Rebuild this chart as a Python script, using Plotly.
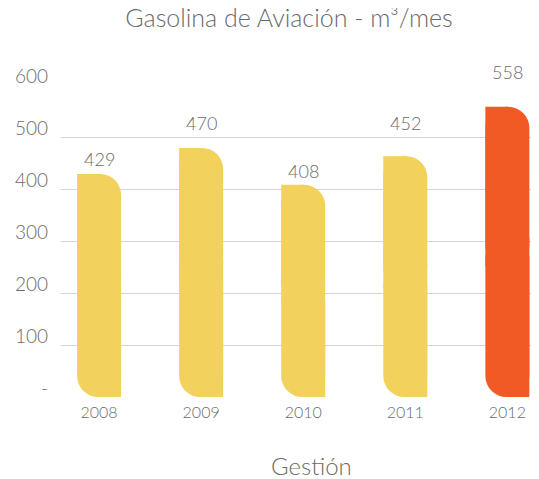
import plotly.graph_objects as go

years = ["2008", "2009", "2010", "2011", "2012"]
# bar heights as drawn in the picture (m3/mes)
bar_heights = [429, 479, 408, 463, 558]
# value labels printed above the bars
value_labels = ["429", "470", "408", "452", "558"]
colors = ["#F3D15D", "#F3D15D", "#F3D15D", "#F3D15D", "#F15A24"]
ytick_vals = [0, 100, 200, 300, 400, 500, 600]
ytick_text = ["-", "100", "200", "300", "400", "500", "600"]

# style: pixel gap between each bar top and the centre of its label
label_gap_px = [15, 25, 14, 33, 35]

FONT = "Lato"
GRAY = "#6b6b6b"
W = 0.431          # full bar width (category units)
H = W / 2          # half width
EPS = 0.006

fig = go.Figure()


def piece(base, y, width, offset, radius=None):
    kw = dict(x=years, base=base, y=y, width=width, offset=offset,
              marker_color=colors, marker_line_width=0,
              hoverinfo="skip", showlegend=False)
    if radius is not None:
        kw["marker_cornerradius"] = radius
    fig.add_trace(go.Bar(**kw))


# upper part: rounded top corners
piece([v * 0.45 for v in bar_heights], [v * 0.55 for v in bar_heights], W, -H, "50%")
# lower part: downward bar -> rounded bottom corners
piece([v * 0.55 for v in bar_heights], [-v * 0.55 for v in bar_heights], W, -H, "50%")
# square top-left corner
piece([v * 0.45 for v in bar_heights], [v * 0.55 for v in bar_heights], H + EPS, -H)
# square bottom-right corner
piece([0 for v in bar_heights], [v * 0.55 for v in bar_heights], H + EPS, -EPS)

annotations = []
for i, (v, t, g) in enumerate(zip(bar_heights, value_labels, label_gap_px)):
    annotations.append(dict(x=i, y=v, xref="x", yref="y", text=t, showarrow=False,
                            yanchor="middle", yshift=g,
                            font=dict(family=FONT, size=18, color=GRAY, weight=300)))
# y-axis labels sitting just above their gridlines
for tv, tt in zip(ytick_vals, ytick_text):
    annotations.append(dict(x=0, y=tv, xref="paper", yref="y", text=tt, showarrow=False,
                            xanchor="right", yanchor="bottom", xshift=-11, yshift=-4,
                            font=dict(family=FONT, size=19, color=GRAY, weight=300)))
annotations.append(dict(x=(311 - 61) / 478, y=-(465 - 397) / 312, xref="paper", yref="paper",
                        text="Gestión", showarrow=False, yanchor="middle", xanchor="center",
                        font=dict(family=FONT, size=24, color=GRAY, weight=300)))

fig.update_layout(
    width=531, height=471,
    barmode="overlay",
    paper_bgcolor="white", plot_bgcolor="white",
    margin=dict(l=53, r=0, t=77, b=82, pad=0),
    title=dict(text="Gasolina de Aviación - m³/mes", x=(289 - 8) / 531, xanchor="center",
               y=1 - 10 / 471, yanchor="middle", yref="container",
               font=dict(family=FONT, size=25, color=GRAY, weight=300)),
    xaxis=dict(type="category", range=[-0.373, 4.31], showgrid=False, showline=False,
               zeroline=False, ticks="", ticklabelstandoff=4,
               tickfont=dict(family=FONT, size=16, color=GRAY, weight=300)),
    yaxis=dict(range=[0, 600], tickvals=ytick_vals, showticklabels=False,
               showgrid=True, gridcolor="#d4d4d4", gridwidth=1, zeroline=False,
               showline=False, ticks=""),
    annotations=annotations,
    font=dict(family=FONT, color=GRAY),
)

fig.write_html("out.html")
